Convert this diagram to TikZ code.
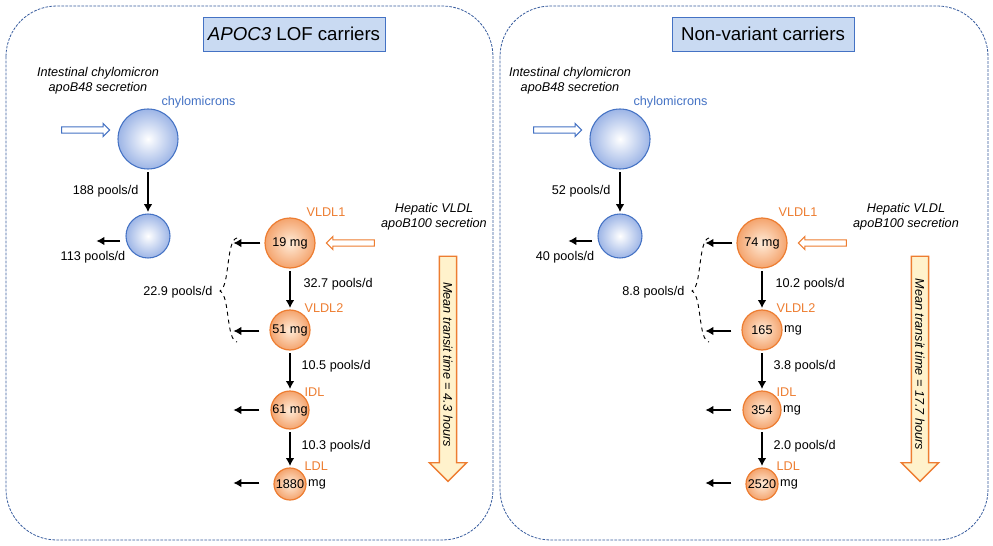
\documentclass[tikz,border=0pt]{standalone}
\usepackage{fontspec}
\setmainfont{Liberation Sans}
\usetikzlibrary{arrows.meta,shapes.arrows}
\definecolor{bblue}{HTML}{4472C4}
\definecolor{sblue}{HTML}{9DB5E6}
\definecolor{orng}{HTML}{ED7D31}
\definecolor{sorng}{HTML}{F4A46E}
\definecolor{tbox}{HTML}{C9DAF2}
\definecolor{lyel}{HTML}{FFF2CC}
\tikzset{
 panel/.style={draw=bblue!80!black, dashed, dash pattern=on 2pt off 1pt, rounded corners=38pt, line width=0.6pt},
 title/.style={draw=bblue, fill=tbox, minimum width=182*0.75pt, minimum height=34*0.75pt, font=\fontsize{14}{16}\selectfont},
 bsph/.style={circle, draw=bblue, line width=0.8pt, inner color=white, outer color=sblue, inner sep=0pt},
 osph/.style={circle, draw=orng, line width=0.9pt, inner color=orange!15, outer color=sorng, inner sep=0pt, font=\fontsize{9.5}{11}\selectfont},
 lab/.style={font=\fontsize{9.5}{11}\selectfont, inner sep=1pt},
 it/.style={font=\fontsize{9.5}{11}\selectfont\itshape, align=center, inner sep=1pt},
 blab/.style={lab, text=bblue},
 olab/.style={lab, text=orng},
 arr/.style={-{Latex[length=6pt,width=6.5pt]}, line width=2.2pt, shorten <=2pt, shorten >=1pt},
 hollow/.style={single arrow, draw=#1, fill=white, line width=0.8pt, minimum height=48*0.75pt, single arrow head extend=2.5pt, inner sep=2pt},
 big/.style={single arrow, draw=orng, fill=lyel, line width=1pt, rotate=-90, minimum height=225*0.75pt, single arrow head extend=7.5pt, inner sep=2.5pt, font=\fontsize{9.5}{11}\selectfont\itshape},
}
\newcommand\mypanel[6]{%
 \node[it] (#1-int) at (98,81) {Intestinal chylomicron\\apoB48 secretion};
 \node[bsph, minimum size=60*0.75pt] (#1-chy) at (148,139) {};
 \node[blab, anchor=west] (#1-chyl) at (160,102) {chylomicrons};
 \node[hollow=bblue] (#1-in) at (84,130) {};
 \node[bsph, minimum size=44*0.75pt] (#1-rem) at (148,236) {};
 \draw[arr] (#1-chy) -- (#1-rem);
 \node[lab, anchor=east] (#1-r1) at (140,191) {#2};
 \coordinate (#1-o0) at (95,241);
 \draw[arr] ([xshift=-2pt]#1-rem.west |- #1-o0) -- (#1-o0);
 \node[lab] (#1-r2) at (93,257) {#3};
 \node[osph, minimum size=50*0.75pt] (#1-v1) at (290,243) {#5};
 \node[olab, anchor=west] (#1-v1l) at (305,212) {VLDL1};
 \node[hollow=orng, shape border rotate=180] (#1-hin) at (352,243) {};
 \node[it] (#1-hep) at (434,217) {Hepatic VLDL\\apoB100 secretion};
 \coordinate (#1-o1) at (232,243);
 \draw[arr, shorten <=3pt] (#1-v1) -- (#1-o1);
 \draw[dashed, line width=0.7pt] (237,238) .. controls (226,240) and (230,286) .. (220,291) .. controls (230,296) and (226,340) .. (237,342);
 \node[lab, anchor=east] (#1-r3) at (214,292) {#4};
 #6}
\newcommand\mylower[8]{%
 \node[osph, minimum size=40*0.75pt] (#1-v2) at (290,330) {};
 \node[lab] at (#1-v2.center) {#3};
 \node[olab, anchor=west] (#1-v2l) at (303,308) {VLDL2};
 \draw[arr] (#1-v1) -- (#1-v2);
 \node[lab, anchor=west] (#1-r4) at (302,284) {#2};
 \coordinate (#1-o2) at (232,331);
 \coordinate (#1-s2) at (262,331);
 \draw[arr] (#1-s2) -- (#1-o2);
 \node[osph, minimum size=38*0.75pt] (#1-idl) at (290,410) {};
 \node[lab] at (#1-idl.center) {#5};
 \node[olab, anchor=west] (#1-idll) at (303,392) {IDL};
 \draw[arr] (#1-v2) -- (#1-idl);
 \node[lab, anchor=west] (#1-r5) at (300,366) {#4};
 \coordinate (#1-o3) at (232,410);
 \coordinate (#1-s3) at (262,410);
 \draw[arr] (#1-s3) -- (#1-o3);
 \node[osph, minimum size=32*0.75pt] (#1-ldl) at (290,484) {};
 \node[lab] at (#1-ldl.center) {#7};
 \node[olab, anchor=west] (#1-ldll) at (303,466) {LDL};
 \draw[arr] (#1-idl) -- (#1-ldl);
 \node[lab, anchor=west] (#1-r6) at (300,446) {#6};
 \coordinate (#1-o4) at (232,483);
 \coordinate (#1-s4) at (262,483);
 \draw[arr] (#1-s4) -- (#1-o4);
 \node[big] (#1-mtt) at (448,364.5) {Mean transit time = #8};
}
\begin{document}
\begin{tikzpicture}[x=0.75pt,y=-0.75pt]
\useasboundingbox (0,0) rectangle (993,546);
\draw[panel] (6,6) rectangle (493,540);
\draw[panel] (500,6) rectangle (988,540);
\node[title] (t1) at (294,34) {\textit{APOC3} LOF carriers};
\node[title] (t2) at (763,34) {Non-variant carriers};
\begin{scope}
\mypanel{a}{188 pools/d}{113 pools/d}{22.9 pools/d}{19 mg}{%
 \mylower{a}{32.7 pools/d}{51 mg}{10.5 pools/d}{61 mg}{10.3 pools/d}{1880}{4.3 hours}
 \node[lab, anchor=west] at (a-ldl.east) {mg};}
\end{scope}
\begin{scope}[xshift=472*0.75pt]
\mypanel{b}{52 pools/d}{40 pools/d}{8.8 pools/d}{74 mg}{%
 \mylower{b}{10.2 pools/d}{165}{3.8 pools/d}{354}{2.0 pools/d}{2520}{17.7 hours}
 \node[lab, anchor=west] at (b-v2.east) {mg};
 \node[lab, anchor=west] at (b-idl.east) {mg};
 \node[lab, anchor=west] at (b-ldl.east) {mg};}
\end{scope}
\end{tikzpicture}
\end{document}
